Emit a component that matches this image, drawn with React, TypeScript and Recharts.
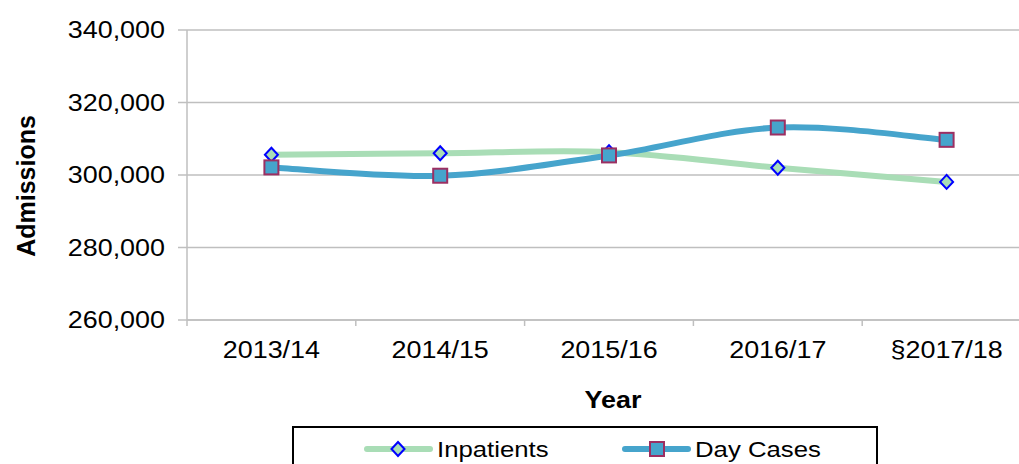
import { LineChart, Line, XAxis, YAxis, CartesianGrid, Legend } from 'recharts';

const years = ['2013/14', '2014/15', '2015/16', '2016/17', '§2017/18'];
const inpatients = [305600, 306000, 306300, 302000, 298100];
const dayCases = [302100, 299800, 305400, 313100, 309700];
const yTicks = [260000, 280000, 300000, 320000, 340000];
// band edges get tick marks, band centres get the year labels
const xTicks = [0, 0.5, 1, 1.5, 2, 2.5, 3, 3.5, 4, 4.5, 5];

const data = years.map((year, i) => ({
  year,
  pos: i + 0.5,
  inpatients: inpatients[i],
  dayCases: dayCases[i],
}));

const FONT = '"Liberation Sans", Arial, sans-serif';
const GREEN = '#a9ddb6';
const BLUE = '#46a4cc';
const AXIS = '#bfbfbf';
const STRETCH = 1.17;

// Excel style smoothed line (bezier with 1/6 control points)
const excelSmooth = (context: any) => {
  let pts: number[][] = [];
  return {
    areaStart() {},
    areaEnd() {},
    lineStart() {
      pts = [];
    },
    point(x: number, y: number) {
      pts.push([+x, +y]);
    },
    lineEnd() {
      if (!pts.length) return;
      context.moveTo(pts[0][0], pts[0][1]);
      for (let i = 0; i < pts.length - 1; i++) {
        const p0 = pts[Math.max(0, i - 1)];
        const p1 = pts[i];
        const p2 = pts[i + 1];
        const p3 = pts[Math.min(pts.length - 1, i + 2)];
        context.bezierCurveTo(
          p1[0] + (p2[0] - p0[0]) / 6,
          p1[1] + (p2[1] - p0[1]) / 6,
          p2[0] - (p3[0] - p1[0]) / 6,
          p2[1] - (p3[1] - p1[1]) / 6,
          p2[0],
          p2[1]
        );
      }
    },
  };
};

function StretchText({ x, y, anchor = 'middle', size = 23, weight = 'normal', children }: any) {
  return (
    <text
      transform={`translate(${x},${y}) scale(${STRETCH},1)`}
      textAnchor={anchor}
      fontSize={size}
      fontWeight={weight}
      fontFamily={FONT}
      fill="#000"
    >
      {children}
    </text>
  );
}

const Diamond = ({ cx, cy, index }: any) => (
  <path
    key={`dia-${index}`}
    d={`M${cx},${cy - 7} L${cx + 6.5},${cy} L${cx},${cy + 7} L${cx - 6.5},${cy} Z`}
    fill={GREEN}
    stroke="#0000ff"
    strokeWidth={2}
  />
);

const Square = ({ cx, cy, index }: any) => (
  <rect key={`sq-${index}`} x={cx - 7} y={cy - 7} width={14} height={14} fill={BLUE} stroke="#9c2f62" strokeWidth={2} />
);

const YTick = ({ x, y, payload }: any) => (
  <StretchText x={x} y={y + 8} anchor="end">
    {payload.value.toLocaleString('en-US')}
  </StretchText>
);

const XTick = ({ x, y, payload }: any) => {
  const v = payload.value;
  if (Number.isInteger(v)) {
    return <line x1={x} x2={x} y1={y} y2={y + 6} stroke={AXIS} strokeWidth={1.5} />;
  }
  return (
    <StretchText x={x} y={y + 38}>
      {years[Math.floor(v)]}
    </StretchText>
  );
};

const renderLegend = () => (
  <div style={{ width: 586, height: 60, border: '2px solid #000', background: '#fff', boxSizing: 'border-box' }}>
    <svg width={582} height={40} style={{ display: 'block' }}>
      <line x1={73} x2={136} y1={21} y2={21} stroke={GREEN} strokeWidth={6} strokeLinecap="round" />
      <Diamond cx={104} cy={21} index="l" />
      <StretchText x={143} y={29} anchor="start" size={22}>Inpatients</StretchText>
      <line x1={331} x2={394} y1={21} y2={21} stroke={BLUE} strokeWidth={6} strokeLinecap="round" />
      <Square cx={363} cy={21} index="l" />
      <StretchText x={401} y={29} anchor="start" size={22}>Day Cases</StretchText>
    </svg>
  </div>
);

export default function App() {
  return (
    <div style={{ position: 'absolute', left: 0, top: 0, width: 1019, height: 464, overflow: 'hidden', background: '#fff' }}>
      <LineChart width={1046} height={464} data={data} margin={{ top: 30, right: 15, left: 0, bottom: 0 }}>
        <CartesianGrid vertical={false} stroke={AXIS} strokeWidth={1.5} />
        <XAxis
          type="number"
          dataKey="pos"
          domain={[0, 5]}
          ticks={xTicks}
          interval={0}
          height={144}
          tickSize={0}
          tickMargin={0}
          tickLine={false}
          axisLine={{ stroke: AXIS, strokeWidth: 1.5 }}
          tick={<XTick />}
          label={{
            value: 'Year',
            content: ({ viewBox }: any) => (
              <StretchText x={viewBox.x + viewBox.width / 2 + 4} y={408} weight="bold">
                Year
              </StretchText>
            ),
          }}
        />
        <YAxis
          type="number"
          domain={[260000, 340000]}
          ticks={yTicks}
          width={187}
          tickSize={9}
          tickMargin={13}
          axisLine={{ stroke: AXIS, strokeWidth: 1.5 }}
          tickLine={{ stroke: AXIS, strokeWidth: 1.5 }}
          tick={<YTick />}
          label={{
            value: 'Admissions',
            content: ({ viewBox }: any) => (
              <text
                transform={`translate(35,${viewBox.y + viewBox.height / 2 + 11}) rotate(-90) scale(1,1.05)`}
                textAnchor="middle"
                fontSize={25}
                fontWeight="bold"
                fontFamily={FONT}
                fill="#000"
              >
                Admissions
              </text>
            ),
          }}
        />
        <Legend verticalAlign="middle" content={renderLegend} wrapperStyle={{ top: 426, left: 292, width: 586, height: 60 }} />
        <Line
          dataKey="inpatients"
          name="Inpatients"
          type={excelSmooth as any}
          stroke={GREEN}
          strokeWidth={6}
          dot={Diamond}
          activeDot={false}
          isAnimationActive={false}
        />
        <Line
          dataKey="dayCases"
          name="Day Cases"
          type={excelSmooth as any}
          stroke={BLUE}
          strokeWidth={6}
          dot={Square}
          activeDot={false}
          isAnimationActive={false}
        />
      </LineChart>
    </div>
  );
}
